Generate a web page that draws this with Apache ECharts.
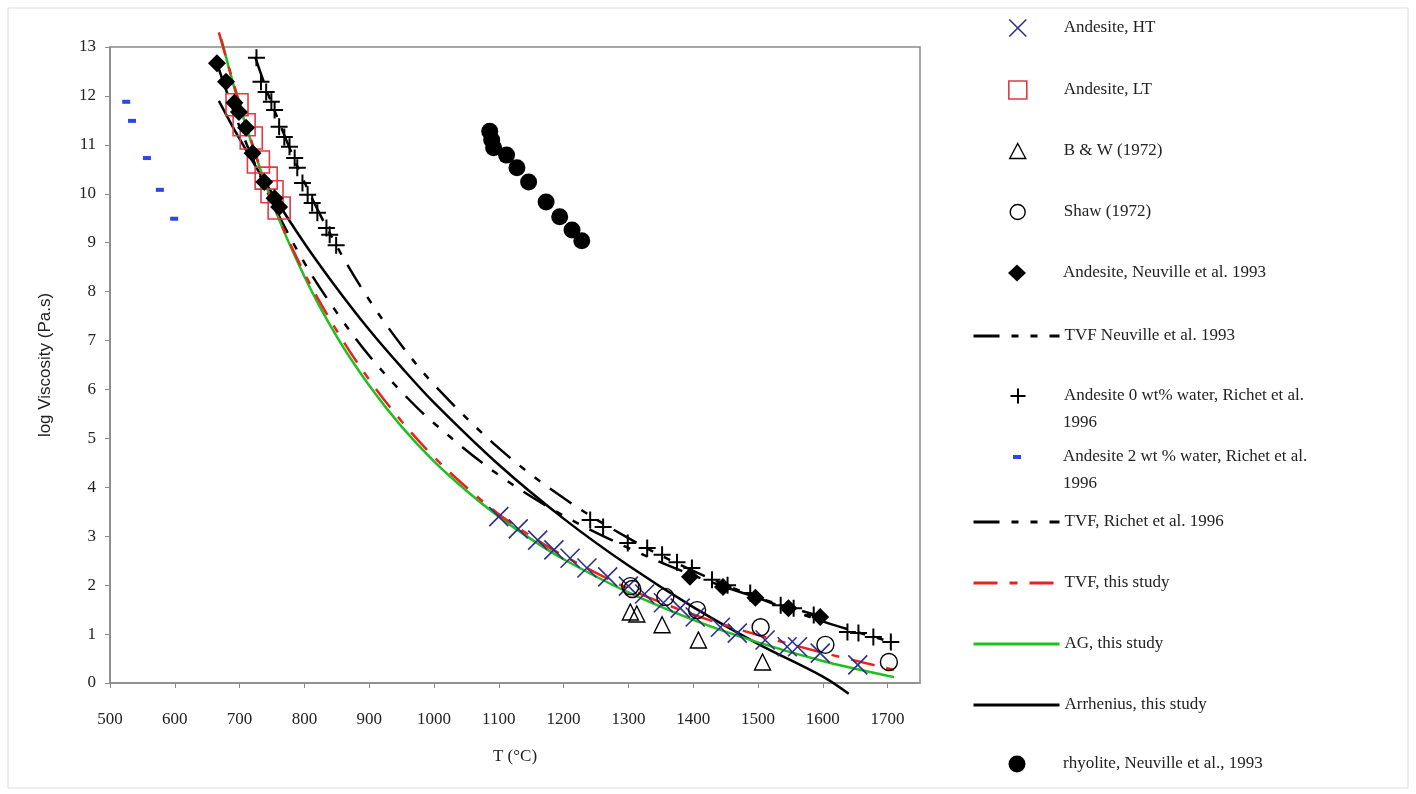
<!DOCTYPE html>
<html><head><meta charset="utf-8">
<script src="https://cdn.jsdelivr.net/npm/echarts@6/dist/echarts.min.js"></script>
<style>html,body{margin:0;padding:0;background:#fff}#c{width:1416px;height:794px}</style>
</head><body><div id="c"></div>
<script>
// ---- data (T in °C, log viscosity in Pa.s) ----
const htT = [1100,1130,1160,1185,1210,1236,1268,1300,1325,1354,1380,1403,1442,1468,1511,1545,1561,1596,1654];
const htV = [3.40,3.15,2.92,2.72,2.55,2.35,2.17,1.98,1.82,1.64,1.53,1.35,1.14,1.02,0.88,0.74,0.74,0.61,0.37];
const ltT = [696,707,718,729,741,750,761];
const ltV = [11.82,11.41,11.14,10.65,10.32,10.04,9.71];
const bwT = [1303,1313,1352,1408,1507];
const bwV = [1.45,1.41,1.19,0.88,0.43];
const shawT = [1303,1306,1357,1406,1504,1604,1702];
const shawV = [1.98,1.92,1.76,1.49,1.14,0.78,0.43];
const neuT = [665,679,692,699,710,720,738,754,761,1395,1446,1496,1547,1596];
const neuV = [12.67,12.29,11.86,11.67,11.35,10.83,10.24,9.91,9.73,2.17,1.96,1.74,1.53,1.35];
const ric0T = [726,733,741,749,754,761,769,777,785,789,797,805,812,820,834,839,849,
               1241,1261,1299,1329,1352,1375,1398,1429,1453,1488,1535,1555,1586,1638,1655,1678,1705];
const ric0V = [12.78,12.29,12.08,11.88,11.71,11.37,11.16,10.96,10.73,10.53,10.22,9.98,9.81,9.61,9.30,9.16,8.95,
               3.33,3.19,2.86,2.76,2.62,2.47,2.35,2.11,2.00,1.84,1.59,1.53,1.39,1.04,1.02,0.94,0.84];
const ric2T = [525,534,557,577,599];
const ric2V = [11.88,11.49,10.73,10.08,9.49];
const rhyT = [1086,1089,1092,1112,1128,1146,1173,1194,1213,1228];
const rhyV = [11.28,11.10,10.94,10.79,10.53,10.24,9.83,9.53,9.26,9.04];
// fitted curves
const tvfNeuT = [668,700,750,800,850,900,950,1000,1100,1200,1300,1400,1500,1600];
const tvfNeuV = [12.55,11.37,9.84,8.59,7.57,6.69,5.95,5.31,4.25,3.42,2.76,2.20,1.74,1.35];
const tvfRicT = [724,750,800,850,900,950,1000,1100,1200,1300,1400,1500,1600,1705];
const tvfRicV = [12.8,11.83,10.24,8.93,7.83,6.9,6.1,4.8,3.78,2.96,2.29,1.74,1.26,0.84];
const tvfThisT = [668,700,750,800,850,900,950,1000,1050,1100,1150,1200,1300,1400,1500,1600,1710];
const tvfThisV = [13.3,11.85,9.85,8.38,7.2,6.2,5.35,4.62,4.0,3.45,3.0,2.6,1.93,1.4,0.98,0.62,0.27];
const agT = [672,700,750,800,850,900,950,1000,1050,1100,1150,1200,1300,1400,1500,1600,1710];
const agV = [13.16,11.8,9.84,8.31,7.08,6.08,5.24,4.53,3.93,3.40,2.94,2.53,1.85,1.29,0.83,0.45,0.12];
const arrT = [668,700,750,800,850,900,950,1000,1100,1200,1300,1400,1500,1600,1640];
const arrV = [11.9,11.12,10.01,8.99,8.07,7.22,6.45,5.73,4.46,3.36,2.40,1.55,0.80,0.13,-0.22];

const names = [
  'Andesite, HT','Andesite, LT','B & W (1972)','Shaw (1972)','Andesite, Neuville et al. 1993',
  'TVF Neuville et al. 1993','Andesite 0 wt% water, Richet et al. 1996','Andesite 2 wt % water, Richet et al. 1996',
  'TVF, Richet et al. 1996','TVF, this study','AG, this study','Arrhenius, this study','rhyolite, Neuville et al., 1993'
];
const legendRowY = [27,89,150,211,272,333,395,456,519,580,641,702,763];

const pts = (t, v) => t.map((x, i) => [x, v[i]]);
const SERIF = '"Liberation Serif","DejaVu Serif",serif';
const dashBlack = [26, 12, 7, 12, 7, 12];

const XPATH = 'path://M0,0L10,10M10,0L0,10';
const PLUS = 'path://M5,0L5,10M0,5L10,5';

const lineSeries = (name, t, v, color, dash) => ({
  name, type: 'line', data: pts(t, v), smooth: 0.35, symbol: 'none', clip: false, z: 2,
  lineStyle: { color, width: 2.5, type: dash || 'solid' }, itemStyle: { color }
});
const scatter = (name, t, v, symbol, size, style) => ({
  name, type: 'scatter', data: pts(t, v), symbol, symbolSize: size, z: 3,
  itemStyle: Object.assign({ opacity: 1 }, style)
});

// marker styles (shared by plot and legend)
const mk = {
  0: { icon: XPATH, size: 19, lsize: [17, 17], style: { color: 'rgba(0,0,0,0)', borderColor: '#2e2e8c', borderWidth: 1.6 } },
  1: { icon: 'rect', size: 22, lsize: [18, 18], style: { color: 'rgba(0,0,0,0)', borderColor: '#e23a44', borderWidth: 1.6 } },
  2: { icon: 'triangle', size: 16, lsize: [16, 15], style: { color: 'rgba(0,0,0,0)', borderColor: '#000', borderWidth: 1.4 } },
  3: { icon: 'circle', size: 17, lsize: [15, 15], style: { color: 'rgba(0,0,0,0)', borderColor: '#000', borderWidth: 1.4 } },
  4: { icon: 'diamond', size: 18, lsize: [18, 17], style: { color: '#000' } },
  6: { icon: PLUS, size: 17, lsize: [15, 15], style: { color: 'rgba(0,0,0,0)', borderColor: '#000', borderWidth: 2 } },
  7: { icon: 'rect', size: [8, 4], lsize: [8, 4], style: { color: '#2f45e6' } },
  12: { icon: 'circle', size: 17, lsize: [17, 17], style: { color: '#000' } }
};
const dataOf = {
  0: [htT, htV], 1: [ltT, ltV], 2: [bwT, bwV], 3: [shawT, shawV], 4: [neuT, neuV],
  6: [ric0T, ric0V], 7: [ric2T, ric2V], 12: [rhyT, rhyV]
};

const series = [
  lineSeries(names[5], tvfNeuT, tvfNeuV, '#000', dashBlack),
  lineSeries(names[8], tvfRicT, tvfRicV, '#000', dashBlack),
  lineSeries(names[11], arrT, arrV, '#000'),
  lineSeries(names[10], agT, agV, '#1fbf1f'),
  lineSeries(names[9], tvfThisT, tvfThisV, '#e8231c', [24, 12, 8, 12])
];
[0, 1, 2, 3, 4, 6, 7, 12].forEach(i => {
  series.push(scatter(names[i], dataOf[i][0], dataOf[i][1], mk[i].icon, mk[i].size, mk[i].style));
});

const TEXT_X = 1063, ICON_CX = 1017;
const graphics = [{ type: 'rect', shape: { x: 8, y: 8, width: 1400, height: 780 },
  style: { fill: 'none', stroke: '#dcdcdc', lineWidth: 1 }, z: -1 }];
const legends = names.map((n, i) => {
  const twoLine = / 1996$/.test(n) && n.startsWith('Andesite');
  const base = { fontFamily: SERIF, fontSize: 17, color: '#222', lineHeight: 20 };
  if (twoLine) {
    // second line of the wrapped legend label
    graphics.push({ type: 'text', left: TEXT_X, top: legendRowY[i] + 27 - 9,
      style: { text: '1996', font: '17px ' + SERIF, fill: '#222', lineHeight: 20 } });
  }
  if (!mk[i]) {
    return {
      show: true, data: [n], orient: 'horizontal', left: 972, top: legendRowY[i] - 7,
      itemWidth: 86, itemHeight: 14, selectedMode: false, padding: 0,
      itemStyle: { opacity: 0 }, lineStyle: { width: 3 },
      textStyle: base
    };
  }
  const [w, h] = mk[i].lsize;
  const left = ICON_CX - w / 2;
  const padL = TEXT_X - (left + w + 5);
  const top = legendRowY[i] - Math.max(h, 20) / 2 + 1;
  return {
    show: true, data: [{ name: n, icon: mk[i].icon, itemStyle: Object.assign({ opacity: 1 }, mk[i].style) }],
    orient: 'horizontal', left, top,
    itemWidth: w, itemHeight: h, selectedMode: false, padding: 0,
    formatter: twoLine ? (s) => s.replace(/ 1996$/, '') : undefined,
    textStyle: Object.assign(base, { padding: [0, 0, 0, padL] })
  };
});

const chart = echarts.init(document.getElementById('c'), null, { renderer: 'canvas' });
chart.setOption({
  animation: false,
  backgroundColor: '#fff',
  graphic: graphics,
  grid: { left: 110, right: 496, top: 47, bottom: 111, show: true, borderColor: '#8a8a8a', borderWidth: 1.5 },
  legend: legends,
  xAxis: {
    type: 'value', min: 500, max: 1750, interval: 100,
    name: 'T (°C)', nameLocation: 'middle', nameGap: 65,
    nameTextStyle: { fontFamily: SERIF, fontSize: 17, color: '#222' },
    axisLine: { lineStyle: { color: '#8a8a8a', width: 1.5 } },
    axisTick: { show: true, length: 5, lineStyle: { color: '#8a8a8a' } },
    axisLabel: { fontFamily: SERIF, fontSize: 17, color: '#222', margin: 28, showMaxLabel: false,
      formatter: v => String(v) },
    splitLine: { show: false }
  },
  yAxis: {
    type: 'value', min: 0, max: 13, interval: 1,
    name: 'log Viscosity (Pa.s)', nameLocation: 'middle', nameGap: 56,
    nameTextStyle: { fontFamily: '"Liberation Sans",Arial,sans-serif', fontSize: 17, color: '#222' },
    axisLine: { show: true, lineStyle: { color: '#8a8a8a', width: 1.5 } },
    axisTick: { show: true, length: 5, lineStyle: { color: '#8a8a8a' } },
    axisLabel: { fontFamily: SERIF, fontSize: 17, color: '#222', margin: 14 },
    splitLine: { show: false }
  },
  series
});
</script></body></html>
